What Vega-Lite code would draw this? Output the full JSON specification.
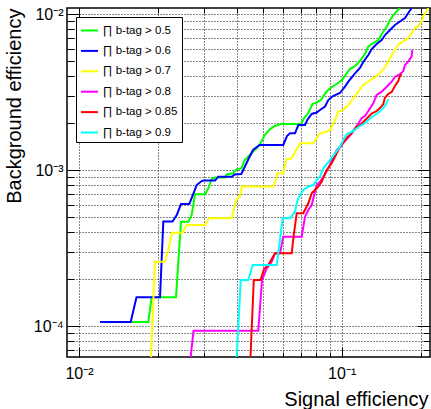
{
"$schema": "https://vega.github.io/schema/vega-lite/v6.json",
"width": 363, "height": 349,
"autosize": {"type": "none"},
"padding": {"left": 67, "top": 8, "right": 1, "bottom": 52},
"background": "white",
"config": {"view": {"stroke": "#000", "strokeWidth": 1.5}, "font": "Liberation Sans", "legend": {"strokeWidth": 1}},
"datasets": {"curves": [
{"c":"∏ b-tag > 0.5","i":0,"x":0.01202,"y":1.061e-4},
{"c":"∏ b-tag > 0.5","i":1,"x":0.01835,"y":1.061e-4},
{"c":"∏ b-tag > 0.5","i":2,"x":0.01891,"y":1.528e-4},
{"c":"∏ b-tag > 0.5","i":3,"x":0.0234,"y":1.528e-4},
{"c":"∏ b-tag > 0.5","i":4,"x":0.02445,"y":4.661e-4},
{"c":"∏ b-tag > 0.5","i":5,"x":0.02607,"y":4.661e-4},
{"c":"∏ b-tag > 0.5","i":6,"x":0.02685,"y":5.147e-4},
{"c":"∏ b-tag > 0.5","i":7,"x":0.02764,"y":6.985e-4},
{"c":"∏ b-tag > 0.5","i":8,"x":0.03018,"y":6.985e-4},
{"c":"∏ b-tag > 0.5","i":9,"x":0.03106,"y":7.634e-4},
{"c":"∏ b-tag > 0.5","i":10,"x":0.032,"y":8.757e-4},
{"c":"∏ b-tag > 0.5","i":11,"x":0.03294,"y":8.953e-4},
{"c":"∏ b-tag > 0.5","i":12,"x":0.03595,"y":8.953e-4},
{"c":"∏ b-tag > 0.5","i":13,"x":0.03649,"y":9.358e-4},
{"c":"∏ b-tag > 0.5","i":14,"x":0.03857,"y":9.525e-4},
{"c":"∏ b-tag > 0.5","i":15,"x":0.03971,"y":1.010e-3},
{"c":"∏ b-tag > 0.5","i":16,"x":0.04149,"y":1.025e-3},
{"c":"∏ b-tag > 0.5","i":17,"x":0.04274,"y":1.159e-3},
{"c":"∏ b-tag > 0.5","i":18,"x":0.04399,"y":1.217e-3},
{"c":"∏ b-tag > 0.5","i":19,"x":0.04665,"y":1.344e-3},
{"c":"∏ b-tag > 0.5","i":20,"x":0.04801,"y":1.411e-3},
{"c":"∏ b-tag > 0.5","i":21,"x":0.04944,"y":1.519e-3},
{"c":"∏ b-tag > 0.5","i":22,"x":0.05093,"y":1.676e-3},
{"c":"∏ b-tag > 0.5","i":23,"x":0.05321,"y":1.824e-3},
{"c":"∏ b-tag > 0.5","i":24,"x":0.0556,"y":1.915e-3},
{"c":"∏ b-tag > 0.5","i":25,"x":0.0589,"y":1.972e-3},
{"c":"∏ b-tag > 0.5","i":26,"x":0.07,"y":1.972e-3},
{"c":"∏ b-tag > 0.5","i":27,"x":0.07186,"y":2.145e-3},
{"c":"∏ b-tag > 0.5","i":28,"x":0.07462,"y":2.32e-3},
{"c":"∏ b-tag > 0.5","i":29,"x":0.07742,"y":2.649e-3},
{"c":"∏ b-tag > 0.5","i":30,"x":0.08034,"y":2.708e-3},
{"c":"∏ b-tag > 0.5","i":31,"x":0.08343,"y":2.823e-3},
{"c":"∏ b-tag > 0.5","i":32,"x":0.08768,"y":3.187e-3},
{"c":"∏ b-tag > 0.5","i":33,"x":0.09025,"y":3.341e-3},
{"c":"∏ b-tag > 0.5","i":34,"x":0.0943,"y":3.507e-3},
{"c":"∏ b-tag > 0.5","i":35,"x":0.09852,"y":3.682e-3},
{"c":"∏ b-tag > 0.5","i":36,"x":0.1014,"y":3.871e-3},
{"c":"∏ b-tag > 0.5","i":37,"x":0.1045,"y":4.169e-3},
{"c":"∏ b-tag > 0.5","i":38,"x":0.1075,"y":4.441e-3},
{"c":"∏ b-tag > 0.5","i":39,"x":0.1124,"y":4.642e-3},
{"c":"∏ b-tag > 0.5","i":40,"x":0.1174,"y":5.0e-3},
{"c":"∏ b-tag > 0.5","i":41,"x":0.1226,"y":5.542e-3},
{"c":"∏ b-tag > 0.5","i":42,"x":0.1263,"y":6.19e-3},
{"c":"∏ b-tag > 0.5","i":43,"x":0.1319,"y":6.517e-3},
{"c":"∏ b-tag > 0.5","i":44,"x":0.1378,"y":6.813e-3},
{"c":"∏ b-tag > 0.5","i":45,"x":0.143,"y":7.555e-3},
{"c":"∏ b-tag > 0.5","i":46,"x":0.1487,"y":8.315e-3},
{"c":"∏ b-tag > 0.5","i":47,"x":0.1527,"y":9.152e-3},
{"c":"∏ b-tag > 0.5","i":48,"x":0.1575,"y":9.854e-3},
{"c":"∏ b-tag > 0.5","i":49,"x":0.1624,"y":1.045e-2},
{"c":"∏ b-tag > 0.5","i":50,"x":0.1667,"y":1.093e-2},
{"c":"∏ b-tag > 0.6","i":51,"x":0.01202,"y":1.061e-4},
{"c":"∏ b-tag > 0.6","i":52,"x":0.01573,"y":1.061e-4},
{"c":"∏ b-tag > 0.6","i":53,"x":0.01655,"y":1.528e-4},
{"c":"∏ b-tag > 0.6","i":54,"x":0.02034,"y":1.528e-4},
{"c":"∏ b-tag > 0.6","i":55,"x":0.02094,"y":4.675e-4},
{"c":"∏ b-tag > 0.6","i":56,"x":0.0227,"y":4.675e-4},
{"c":"∏ b-tag > 0.6","i":57,"x":0.02355,"y":5.147e-4},
{"c":"∏ b-tag > 0.6","i":58,"x":0.02445,"y":6.054e-4},
{"c":"∏ b-tag > 0.6","i":59,"x":0.02629,"y":6.054e-4},
{"c":"∏ b-tag > 0.6","i":60,"x":0.02806,"y":8.01e-4},
{"c":"∏ b-tag > 0.6","i":61,"x":0.02931,"y":8.5e-4},
{"c":"∏ b-tag > 0.6","i":62,"x":0.02973,"y":8.56e-4},
{"c":"∏ b-tag > 0.6","i":63,"x":0.03294,"y":8.56e-4},
{"c":"∏ b-tag > 0.6","i":64,"x":0.03391,"y":9.06e-4},
{"c":"∏ b-tag > 0.6","i":65,"x":0.03814,"y":9.06e-4},
{"c":"∏ b-tag > 0.6","i":66,"x":0.03915,"y":9.358e-4},
{"c":"∏ b-tag > 0.6","i":67,"x":0.04149,"y":9.427e-4},
{"c":"∏ b-tag > 0.6","i":68,"x":0.04399,"y":1.159e-3},
{"c":"∏ b-tag > 0.6","i":69,"x":0.04596,"y":1.344e-3},
{"c":"∏ b-tag > 0.6","i":70,"x":0.04873,"y":1.447e-3},
{"c":"∏ b-tag > 0.6","i":71,"x":0.05994,"y":1.447e-3},
{"c":"∏ b-tag > 0.6","i":72,"x":0.06191,"y":1.652e-3},
{"c":"∏ b-tag > 0.6","i":73,"x":0.06357,"y":1.719e-3},
{"c":"∏ b-tag > 0.6","i":74,"x":0.06642,"y":1.719e-3},
{"c":"∏ b-tag > 0.6","i":75,"x":0.06837,"y":1.943e-3},
{"c":"∏ b-tag > 0.6","i":76,"x":0.0725,"y":1.943e-3},
{"c":"∏ b-tag > 0.6","i":77,"x":0.07397,"y":2.092e-3},
{"c":"∏ b-tag > 0.6","i":78,"x":0.07688,"y":2.287e-3},
{"c":"∏ b-tag > 0.6","i":79,"x":0.08034,"y":2.338e-3},
{"c":"∏ b-tag > 0.6","i":80,"x":0.0827,"y":2.426e-3},
{"c":"∏ b-tag > 0.6","i":81,"x":0.0864,"y":2.553e-3},
{"c":"∏ b-tag > 0.6","i":82,"x":0.08892,"y":2.81e-3},
{"c":"∏ b-tag > 0.6","i":83,"x":0.09266,"y":2.982e-3},
{"c":"∏ b-tag > 0.6","i":84,"x":0.09852,"y":3.117e-3},
{"c":"∏ b-tag > 0.6","i":85,"x":0.1029,"y":3.42e-3},
{"c":"∏ b-tag > 0.6","i":86,"x":0.106,"y":3.682e-3},
{"c":"∏ b-tag > 0.6","i":87,"x":0.1124,"y":4.169e-3},
{"c":"∏ b-tag > 0.6","i":88,"x":0.1174,"y":4.508e-3},
{"c":"∏ b-tag > 0.6","i":89,"x":0.1208,"y":4.927e-3},
{"c":"∏ b-tag > 0.6","i":90,"x":0.1263,"y":5.461e-3},
{"c":"∏ b-tag > 0.6","i":91,"x":0.1301,"y":5.968e-3},
{"c":"∏ b-tag > 0.6","i":92,"x":0.1359,"y":6.426e-3},
{"c":"∏ b-tag > 0.6","i":93,"x":0.142,"y":6.813e-3},
{"c":"∏ b-tag > 0.6","i":94,"x":0.1462,"y":7.335e-3},
{"c":"∏ b-tag > 0.6","i":95,"x":0.1527,"y":7.898e-3},
{"c":"∏ b-tag > 0.6","i":96,"x":0.1595,"y":8.504e-3},
{"c":"∏ b-tag > 0.6","i":97,"x":0.1667,"y":8.953e-3},
{"c":"∏ b-tag > 0.6","i":98,"x":0.1742,"y":9.427e-3},
{"c":"∏ b-tag > 0.6","i":99,"x":0.1793,"y":1.015e-2},
{"c":"∏ b-tag > 0.6","i":100,"x":0.1847,"y":1.093e-2},
{"c":"∏ b-tag > 0.7","i":101,"x":0.01879,"y":6.33e-5},
{"c":"∏ b-tag > 0.7","i":102,"x":0.01946,"y":2.583e-4},
{"c":"∏ b-tag > 0.7","i":103,"x":0.02125,"y":2.583e-4},
{"c":"∏ b-tag > 0.7","i":104,"x":0.02187,"y":3.049e-4},
{"c":"∏ b-tag > 0.7","i":105,"x":0.0226,"y":3.964e-4},
{"c":"∏ b-tag > 0.7","i":106,"x":0.02477,"y":3.964e-4},
{"c":"∏ b-tag > 0.7","i":107,"x":0.0257,"y":4.441e-4},
{"c":"∏ b-tag > 0.7","i":108,"x":0.03018,"y":4.441e-4},
{"c":"∏ b-tag > 0.7","i":109,"x":0.03125,"y":4.901e-4},
{"c":"∏ b-tag > 0.7","i":110,"x":0.03814,"y":4.901e-4},
{"c":"∏ b-tag > 0.7","i":111,"x":0.03902,"y":5.817e-4},
{"c":"∏ b-tag > 0.7","i":112,"x":0.03985,"y":6.517e-4},
{"c":"∏ b-tag > 0.7","i":113,"x":0.04102,"y":6.813e-4},
{"c":"∏ b-tag > 0.7","i":114,"x":0.04164,"y":7.841e-4},
{"c":"∏ b-tag > 0.7","i":115,"x":0.05491,"y":7.841e-4},
{"c":"∏ b-tag > 0.7","i":116,"x":0.05623,"y":8.719e-4},
{"c":"∏ b-tag > 0.7","i":117,"x":0.05688,"y":9.525e-4},
{"c":"∏ b-tag > 0.7","i":118,"x":0.05994,"y":9.525e-4},
{"c":"∏ b-tag > 0.7","i":119,"x":0.06084,"y":1.077e-3},
{"c":"∏ b-tag > 0.7","i":120,"x":0.06175,"y":1.171e-3},
{"c":"∏ b-tag > 0.7","i":121,"x":0.06451,"y":1.189e-3},
{"c":"∏ b-tag > 0.7","i":122,"x":0.06642,"y":1.31e-3},
{"c":"∏ b-tag > 0.7","i":123,"x":0.06939,"y":1.483e-3},
{"c":"∏ b-tag > 0.7","i":124,"x":0.07796,"y":1.483e-3},
{"c":"∏ b-tag > 0.7","i":125,"x":0.08034,"y":1.597e-3},
{"c":"∏ b-tag > 0.7","i":126,"x":0.0827,"y":1.719e-3},
{"c":"∏ b-tag > 0.7","i":127,"x":0.08768,"y":1.76e-3},
{"c":"∏ b-tag > 0.7","i":128,"x":0.09025,"y":1.805e-3},
{"c":"∏ b-tag > 0.7","i":129,"x":0.0943,"y":2.092e-3},
{"c":"∏ b-tag > 0.7","i":130,"x":0.09706,"y":2.371e-3},
{"c":"∏ b-tag > 0.7","i":131,"x":0.1014,"y":2.426e-3},
{"c":"∏ b-tag > 0.7","i":132,"x":0.106,"y":2.61e-3},
{"c":"∏ b-tag > 0.7","i":133,"x":0.1107,"y":2.882e-3},
{"c":"∏ b-tag > 0.7","i":134,"x":0.1157,"y":3.187e-3},
{"c":"∏ b-tag > 0.7","i":135,"x":0.1208,"y":3.507e-3},
{"c":"∏ b-tag > 0.7","i":136,"x":0.1263,"y":3.692e-3},
{"c":"∏ b-tag > 0.7","i":137,"x":0.1319,"y":3.871e-3},
{"c":"∏ b-tag > 0.7","i":138,"x":0.1378,"y":4.065e-3},
{"c":"∏ b-tag > 0.7","i":139,"x":0.144,"y":4.409e-3},
{"c":"∏ b-tag > 0.7","i":140,"x":0.1484,"y":4.783e-3},
{"c":"∏ b-tag > 0.7","i":141,"x":0.1527,"y":5.185e-3},
{"c":"∏ b-tag > 0.7","i":142,"x":0.1595,"y":5.907e-3},
{"c":"∏ b-tag > 0.7","i":143,"x":0.1642,"y":6.36e-3},
{"c":"∏ b-tag > 0.7","i":144,"x":0.1716,"y":6.683e-3},
{"c":"∏ b-tag > 0.7","i":145,"x":0.1793,"y":7.017e-3},
{"c":"∏ b-tag > 0.7","i":146,"x":0.1847,"y":7.555e-3},
{"c":"∏ b-tag > 0.7","i":147,"x":0.1901,"y":8.133e-3},
{"c":"∏ b-tag > 0.7","i":148,"x":0.1957,"y":8.339e-3},
{"c":"∏ b-tag > 0.7","i":149,"x":0.2016,"y":8.98e-3},
{"c":"∏ b-tag > 0.7","i":150,"x":0.2045,"y":9.667e-3},
{"c":"∏ b-tag > 0.7","i":151,"x":0.2107,"y":1.041e-2},
{"c":"∏ b-tag > 0.7","i":152,"x":0.2136,"y":1.093e-2},
{"c":"∏ b-tag > 0.8","i":153,"x":0.02662,"y":6.33e-5},
{"c":"∏ b-tag > 0.8","i":154,"x":0.02728,"y":9.33e-5},
{"c":"∏ b-tag > 0.8","i":155,"x":0.04814,"y":9.33e-5},
{"c":"∏ b-tag > 0.8","i":156,"x":0.04974,"y":1.972e-4},
{"c":"∏ b-tag > 0.8","i":157,"x":0.05182,"y":2.344e-4},
{"c":"∏ b-tag > 0.8","i":158,"x":0.05415,"y":2.583e-4},
{"c":"∏ b-tag > 0.8","i":159,"x":0.05574,"y":2.924e-4},
{"c":"∏ b-tag > 0.8","i":160,"x":0.05823,"y":2.924e-4},
{"c":"∏ b-tag > 0.8","i":161,"x":0.05994,"y":3.736e-4},
{"c":"∏ b-tag > 0.8","i":162,"x":0.07043,"y":3.736e-4},
{"c":"∏ b-tag > 0.8","i":163,"x":0.0725,"y":5.018e-4},
{"c":"∏ b-tag > 0.8","i":164,"x":0.07462,"y":5.542e-4},
{"c":"∏ b-tag > 0.8","i":165,"x":0.07688,"y":5.968e-4},
{"c":"∏ b-tag > 0.8","i":166,"x":0.08034,"y":8.01e-4},
{"c":"∏ b-tag > 0.8","i":167,"x":0.0827,"y":8.414e-4},
{"c":"∏ b-tag > 0.8","i":168,"x":0.0851,"y":9.059e-4},
{"c":"∏ b-tag > 0.8","i":169,"x":0.08892,"y":1.025e-3},
{"c":"∏ b-tag > 0.8","i":170,"x":0.0929,"y":1.217e-3},
{"c":"∏ b-tag > 0.8","i":171,"x":0.09571,"y":1.344e-3},
{"c":"∏ b-tag > 0.8","i":172,"x":0.09852,"y":1.411e-3},
{"c":"∏ b-tag > 0.8","i":173,"x":0.1029,"y":1.534e-3},
{"c":"∏ b-tag > 0.8","i":174,"x":0.1075,"y":1.664e-3},
{"c":"∏ b-tag > 0.8","i":175,"x":0.1124,"y":1.832e-3},
{"c":"∏ b-tag > 0.8","i":176,"x":0.1192,"y":2.154e-3},
{"c":"∏ b-tag > 0.8","i":177,"x":0.1226,"y":2.219e-3},
{"c":"∏ b-tag > 0.8","i":178,"x":0.1263,"y":2.389e-3},
{"c":"∏ b-tag > 0.8","i":179,"x":0.1319,"y":2.677e-3},
{"c":"∏ b-tag > 0.8","i":180,"x":0.1359,"y":3.026e-3},
{"c":"∏ b-tag > 0.8","i":181,"x":0.142,"y":3.177e-3},
{"c":"∏ b-tag > 0.8","i":182,"x":0.1484,"y":3.42e-3},
{"c":"∏ b-tag > 0.8","i":183,"x":0.155,"y":3.682e-3},
{"c":"∏ b-tag > 0.8","i":184,"x":0.1595,"y":3.947e-3},
{"c":"∏ b-tag > 0.8","i":185,"x":0.1667,"y":4.125e-3},
{"c":"∏ b-tag > 0.8","i":186,"x":0.1716,"y":4.294e-3},
{"c":"∏ b-tag > 0.8","i":187,"x":0.1742,"y":4.71e-3},
{"c":"∏ b-tag > 0.8","i":188,"x":0.1793,"y":4.978e-3},
{"c":"∏ b-tag > 0.8","i":189,"x":0.1847,"y":5.357e-3},
{"c":"∏ b-tag > 0.8","i":190,"x":0.1857,"y":5.881e-3},
{"c":"∏ b-tag > 0.85","i":191,"x":0.04496,"y":6.33e-5},
{"c":"∏ b-tag > 0.85","i":192,"x":0.04628,"y":1.972e-4},
{"c":"∏ b-tag > 0.85","i":193,"x":0.04909,"y":1.972e-4},
{"c":"∏ b-tag > 0.85","i":194,"x":0.05062,"y":2.32e-4},
{"c":"∏ b-tag > 0.85","i":195,"x":0.05256,"y":2.46e-4},
{"c":"∏ b-tag > 0.85","i":196,"x":0.05574,"y":2.924e-4},
{"c":"∏ b-tag > 0.85","i":197,"x":0.06451,"y":2.924e-4},
{"c":"∏ b-tag > 0.85","i":198,"x":0.06584,"y":3.947e-4},
{"c":"∏ b-tag > 0.85","i":199,"x":0.06742,"y":5.278e-4},
{"c":"∏ b-tag > 0.85","i":200,"x":0.07142,"y":5.278e-4},
{"c":"∏ b-tag > 0.85","i":201,"x":0.07462,"y":6.117e-4},
{"c":"∏ b-tag > 0.85","i":202,"x":0.07574,"y":6.585e-4},
{"c":"∏ b-tag > 0.85","i":203,"x":0.07688,"y":7.089e-4},
{"c":"∏ b-tag > 0.85","i":204,"x":0.07914,"y":7.443e-4},
{"c":"∏ b-tag > 0.85","i":205,"x":0.08145,"y":7.818e-4},
{"c":"∏ b-tag > 0.85","i":206,"x":0.08391,"y":8.414e-4},
{"c":"∏ b-tag > 0.85","i":207,"x":0.08768,"y":1.0e-3},
{"c":"∏ b-tag > 0.85","i":208,"x":0.0916,"y":1.104e-3},
{"c":"∏ b-tag > 0.85","i":209,"x":0.0943,"y":1.217e-3},
{"c":"∏ b-tag > 0.85","i":210,"x":0.09706,"y":1.344e-3},
{"c":"∏ b-tag > 0.85","i":211,"x":0.1,"y":1.447e-3},
{"c":"∏ b-tag > 0.85","i":212,"x":0.1045,"y":1.604e-3},
{"c":"∏ b-tag > 0.85","i":213,"x":0.1092,"y":1.727e-3},
{"c":"∏ b-tag > 0.85","i":214,"x":0.1134,"y":1.887e-3},
{"c":"∏ b-tag > 0.85","i":215,"x":0.1174,"y":1.943e-3},
{"c":"∏ b-tag > 0.85","i":216,"x":0.1208,"y":2.032e-3},
{"c":"∏ b-tag > 0.85","i":217,"x":0.1263,"y":2.187e-3},
{"c":"∏ b-tag > 0.85","i":218,"x":0.1301,"y":2.303e-3},
{"c":"∏ b-tag > 0.85","i":219,"x":0.1359,"y":2.389e-3},
{"c":"∏ b-tag > 0.85","i":220,"x":0.1399,"y":2.497e-3},
{"c":"∏ b-tag > 0.85","i":221,"x":0.144,"y":2.649e-3},
{"c":"∏ b-tag > 0.85","i":222,"x":0.1462,"y":2.916e-3},
{"c":"∏ b-tag > 0.85","i":223,"x":0.1504,"y":3.071e-3},
{"c":"∏ b-tag > 0.85","i":224,"x":0.155,"y":3.162e-3},
{"c":"∏ b-tag > 0.85","i":225,"x":0.1595,"y":3.456e-3},
{"c":"∏ b-tag > 0.85","i":226,"x":0.1642,"y":3.719e-3},
{"c":"∏ b-tag > 0.85","i":227,"x":0.1667,"y":4.006e-3},
{"c":"∏ b-tag > 0.85","i":228,"x":0.1692,"y":4.125e-3},
{"c":"∏ b-tag > 0.9","i":229,"x":0.03985,"y":6.33e-5},
{"c":"∏ b-tag > 0.9","i":230,"x":0.04127,"y":1.972e-4},
{"c":"∏ b-tag > 0.9","i":231,"x":0.04411,"y":1.972e-4},
{"c":"∏ b-tag > 0.9","i":232,"x":0.04584,"y":2.46e-4},
{"c":"∏ b-tag > 0.9","i":233,"x":0.05658,"y":2.46e-4},
{"c":"∏ b-tag > 0.9","i":234,"x":0.05963,"y":4.901e-4},
{"c":"∏ b-tag > 0.9","i":235,"x":0.06357,"y":4.901e-4},
{"c":"∏ b-tag > 0.9","i":236,"x":0.06642,"y":5.404e-4},
{"c":"∏ b-tag > 0.9","i":237,"x":0.06742,"y":6.117e-4},
{"c":"∏ b-tag > 0.9","i":238,"x":0.06837,"y":6.585e-4},
{"c":"∏ b-tag > 0.9","i":239,"x":0.07142,"y":7.443e-4},
{"c":"∏ b-tag > 0.9","i":240,"x":0.07462,"y":7.818e-4},
{"c":"∏ b-tag > 0.9","i":241,"x":0.07796,"y":8.01e-4},
{"c":"∏ b-tag > 0.9","i":242,"x":0.08034,"y":8.628e-4},
{"c":"∏ b-tag > 0.9","i":243,"x":0.0827,"y":9.059e-4},
{"c":"∏ b-tag > 0.9","i":244,"x":0.0851,"y":1.025e-3},
{"c":"∏ b-tag > 0.9","i":245,"x":0.09025,"y":1.159e-3},
{"c":"∏ b-tag > 0.9","i":246,"x":0.0943,"y":1.28e-3},
{"c":"∏ b-tag > 0.9","i":247,"x":0.09852,"y":1.411e-3},
{"c":"∏ b-tag > 0.9","i":248,"x":0.1014,"y":1.557e-3},
{"c":"∏ b-tag > 0.9","i":249,"x":0.1048,"y":1.701e-3},
{"c":"∏ b-tag > 0.9","i":250,"x":0.1107,"y":1.778e-3},
{"c":"∏ b-tag > 0.9","i":251,"x":0.1157,"y":1.887e-3},
{"c":"∏ b-tag > 0.9","i":252,"x":0.1226,"y":1.993e-3},
{"c":"∏ b-tag > 0.9","i":253,"x":0.1282,"y":2.139e-3},
{"c":"∏ b-tag > 0.9","i":254,"x":0.1339,"y":2.253e-3},
{"c":"∏ b-tag > 0.9","i":255,"x":0.1399,"y":2.378e-3},
{"c":"∏ b-tag > 0.9","i":256,"x":0.144,"y":2.497e-3},
{"c":"∏ b-tag > 0.9","i":257,"x":0.1484,"y":2.688e-3},
{"c":"∏ b-tag > 0.9","i":258,"x":0.1504,"y":2.852e-3}
]},
"data": {"name": "curves"},
"layer": [
{
"mark": {"type": "line", "strokeWidth": 2, "clip": true},
"encoding": {
"x": {"field": "x", "type": "quantitative",
"scale": {"type": "log", "domain": [0.009, 0.2169], "nice": false, "zero": false},
"axis": {"orient": "bottom", "values": [0.01,0.02,0.03,0.04,0.05,0.06,0.07,0.08,0.09,0.1,0.2],
"domain": false, "grid": true, "gridColor": "#111", "gridDash": [1,2], "gridWidth": 1,
"tickColor": "#000", "tickWidth": 1,
"tickSize": {"condition": {"test": "datum.value==0.01||datum.value==0.1", "value": -10}, "value": -5},
"labelExpr": "datum.value==0.01?'10⁻²':datum.value==0.1?'10⁻¹':''",
"labelFont": "Liberation Sans", "labelFontSize": 16, "labelColor": "#000", "labelPadding": 18,
"labelFlush": false, "labelOverlap": false, "labelBaseline": "top",
"title": "Signal efficiency", "titleFont": "Liberation Sans", "titleFontSize": 20, "titleFontWeight": "normal", "titleColor": "#000",
"titleAnchor": "end", "titleAlign": "right", "titleBaseline": "alphabetic", "titleX": 361, "titleY": 48}},
"y": {"field": "y", "type": "quantitative",
"scale": {"type": "log", "domain": [6.33e-5, 0.01093], "nice": false, "zero": false},
"axis": {"orient": "left", "values": [0.00007,0.00008,0.00009,0.0001,0.0002,0.0003,0.0004,0.0005,0.0006,0.0007,0.0008,0.0009,0.001,0.002,0.003,0.004,0.005,0.006,0.007,0.008,0.009,0.01],
"domain": false, "grid": true, "gridColor": "#111", "gridDash": [1,2], "gridWidth": 1,
"tickColor": "#000", "tickWidth": 1,
"tickSize": {"condition": {"test": "datum.value==0.0001||datum.value==0.001||datum.value==0.01", "value": -13}, "value": -7},
"labelExpr": "datum.value==0.0001?'10⁻⁴':datum.value==0.001?'10⁻³':datum.value==0.01?'10⁻²':''",
"labelFont": "Liberation Sans", "labelFontSize": 16, "labelColor": "#000", "labelPadding": 17,
"labelFlush": false, "labelOverlap": false, "labelBaseline": "middle", "labelAlign": "right",
"title": "Background efficiency", "titleFont": "Liberation Sans", "titleFontSize": 20, "titleFontWeight": "normal", "titleColor": "#000",
"titleAnchor": "end", "titleAlign": "right", "titleBaseline": "alphabetic", "titleAngle": 270, "titleX": -46.5, "titleY": 0}},
"color": {"field": "c", "type": "nominal",
"scale": {"domain": ["∏ b-tag > 0.5","∏ b-tag > 0.6","∏ b-tag > 0.7","∏ b-tag > 0.8","∏ b-tag > 0.85","∏ b-tag > 0.9"],
"range": ["#00ff00","#0000ff","#ffff00","#ff00ff","#ff0000","#00ffff"]},
"legend": {"title": null, "orient": "none", "legendX": 9, "legendY": 9, "direction": "vertical",
"fillColor": "#fff", "strokeColor": "#000", "padding": 4, "cornerRadius": 0,
"symbolType": "stroke", "symbolSize": 289, "symbolStrokeWidth": 2,
"labelFont": "Liberation Sans", "labelFontSize": 11.5, "labelColor": "#000", "labelOffset": 4, "rowPadding": 5.4}},
"order": {"field": "i", "type": "quantitative"}
}
},
{
"mark": {"type": "line", "opacity": 0, "clip": true},
"encoding": {
"x": {"field": "x", "type": "quantitative",
"scale": {"type": "log", "domain": [0.009, 0.2169], "nice": false, "zero": false},
"axis": {"orient": "top", "values": [0.01,0.02,0.03,0.04,0.05,0.06,0.07,0.08,0.09,0.1,0.2],
"domain": false, "grid": false, "labels": false, "title": null, "tickColor": "#000", "tickWidth": 1,
"tickSize": {"condition": {"test": "datum.value==0.01||datum.value==0.1", "value": -10}, "value": -5}}},
"y": {"field": "y", "type": "quantitative",
"scale": {"type": "log", "domain": [6.33e-5, 0.01093], "nice": false, "zero": false},
"axis": {"orient": "right", "values": [0.00007,0.00008,0.00009,0.0001,0.0002,0.0003,0.0004,0.0005,0.0006,0.0007,0.0008,0.0009,0.001,0.002,0.003,0.004,0.005,0.006,0.007,0.008,0.009,0.01],
"domain": false, "grid": false, "labels": false, "title": null, "tickColor": "#000", "tickWidth": 1,
"tickSize": {"condition": {"test": "datum.value==0.0001||datum.value==0.001||datum.value==0.01", "value": -13}, "value": -7}}},
"detail": {"field": "c", "type": "nominal"},
"order": {"field": "i", "type": "quantitative"}
}
}
],
"resolve": {"axis": {"x": "independent", "y": "independent"}}
}
